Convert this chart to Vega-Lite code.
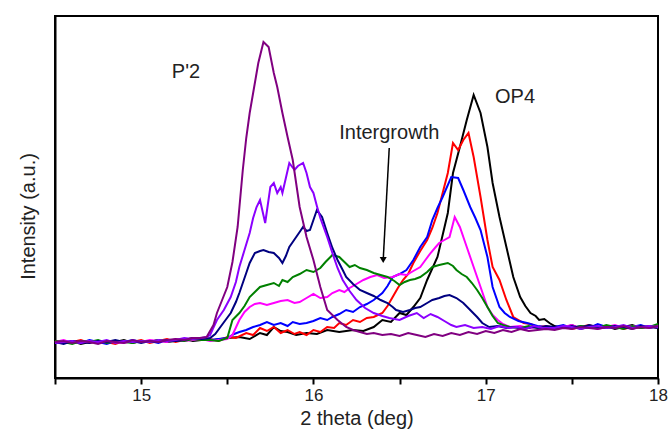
{
"$schema": "https://vega.github.io/schema/vega-lite/v6.json",
"width": 603, "height": 362,
"autosize": {"type": "none"},
"padding": {"left": 55, "top": 16, "right": 12, "bottom": 62},
"background": "white",
"config": {"view": {"stroke": "black", "strokeWidth": 2}, "font": "Liberation Sans"},
"datasets": {
"lines": [
{"s":"k","x":14.5,"y":36},{"s":"k","x":14.55,"y":35},{"s":"k","x":14.6,"y":37},{"s":"k","x":14.65,"y":34},{"s":"k","x":14.7,"y":36},{"s":"k","x":14.75,"y":37},{"s":"k","x":14.8,"y":35},{"s":"k","x":14.85,"y":36},{"s":"k","x":14.9,"y":38},{"s":"k","x":14.95,"y":35},{"s":"k","x":15.0,"y":37},{"s":"k","x":15.05,"y":36},{"s":"k","x":15.1,"y":38},{"s":"k","x":15.15,"y":36},{"s":"k","x":15.2,"y":37},{"s":"k","x":15.25,"y":39},{"s":"k","x":15.3,"y":37},{"s":"k","x":15.35,"y":38},
{"s":"k","x":15.42,"y":38},{"s":"k","x":15.5,"y":40},{"s":"k","x":15.57,"y":41},{"s":"k","x":15.63,"y":39},{"s":"k","x":15.69,"y":45},{"s":"k","x":15.73,"y":43},{"s":"k","x":15.77,"y":51},{"s":"k","x":15.81,"y":47},{"s":"k","x":15.85,"y":46},{"s":"k","x":15.9,"y":43},{"s":"k","x":15.96,"y":45},{"s":"k","x":16.02,"y":44},{"s":"k","x":16.08,"y":48},{"s":"k","x":16.15,"y":46},{"s":"k","x":16.23,"y":48},{"s":"k","x":16.29,"y":47},{"s":"k","x":16.35,"y":51},{"s":"k","x":16.4,"y":58},{"s":"k","x":16.45,"y":56},{"s":"k","x":16.5,"y":65},{"s":"k","x":16.54,"y":63},{"s":"k","x":16.58,"y":71},{"s":"k","x":16.62,"y":80},{"s":"k","x":16.66,"y":98},{"s":"k","x":16.72,"y":121},{"s":"k","x":16.78,"y":165},{"s":"k","x":16.81,"y":205},{"s":"k","x":16.85,"y":231},{"s":"k","x":16.89,"y":258},{"s":"k","x":16.93,"y":283},{"s":"k","x":16.97,"y":265},{"s":"k","x":17.01,"y":231},{"s":"k","x":17.04,"y":195},{"s":"k","x":17.08,"y":161},{"s":"k","x":17.12,"y":131},{"s":"k","x":17.16,"y":101},{"s":"k","x":17.2,"y":81},{"s":"k","x":17.23,"y":72},{"s":"k","x":17.26,"y":65},{"s":"k","x":17.29,"y":62},{"s":"k","x":17.31,"y":58},{"s":"k","x":17.34,"y":59},{"s":"k","x":17.37,"y":55},
{"s":"k","x":17.4,"y":52},{"s":"k","x":17.45,"y":50},{"s":"k","x":17.5,"y":53},{"s":"k","x":17.55,"y":49},{"s":"k","x":17.6,"y":51},{"s":"k","x":17.65,"y":50},{"s":"k","x":17.7,"y":52},{"s":"k","x":17.75,"y":49},{"s":"k","x":17.8,"y":51},{"s":"k","x":17.85,"y":53},{"s":"k","x":17.9,"y":50},{"s":"k","x":17.95,"y":52},{"s":"k","x":18.0,"y":51},

{"s":"r","x":14.5,"y":37},{"s":"r","x":14.55,"y":35},{"s":"r","x":14.6,"y":36},{"s":"r","x":14.65,"y":38},{"s":"r","x":14.7,"y":35},{"s":"r","x":14.75,"y":37},{"s":"r","x":14.8,"y":36},{"s":"r","x":14.85,"y":34},{"s":"r","x":14.9,"y":37},{"s":"r","x":14.95,"y":36},{"s":"r","x":15.0,"y":38},{"s":"r","x":15.05,"y":35},{"s":"r","x":15.1,"y":37},{"s":"r","x":15.15,"y":39},{"s":"r","x":15.2,"y":36},{"s":"r","x":15.25,"y":38},{"s":"r","x":15.3,"y":40},{"s":"r","x":15.35,"y":38},
{"s":"r","x":15.4,"y":39},{"s":"r","x":15.45,"y":37},{"s":"r","x":15.5,"y":41},{"s":"r","x":15.55,"y":40},{"s":"r","x":15.61,"y":45},{"s":"r","x":15.65,"y":43},{"s":"r","x":15.69,"y":50},{"s":"r","x":15.73,"y":47},{"s":"r","x":15.77,"y":51},{"s":"r","x":15.81,"y":45},{"s":"r","x":15.85,"y":48},{"s":"r","x":15.89,"y":44},{"s":"r","x":15.92,"y":46},{"s":"r","x":15.96,"y":43},{"s":"r","x":16.0,"y":48},{"s":"r","x":16.04,"y":46},{"s":"r","x":16.08,"y":51},{"s":"r","x":16.12,"y":50},{"s":"r","x":16.15,"y":55},{"s":"r","x":16.19,"y":53},{"s":"r","x":16.23,"y":58},{"s":"r","x":16.27,"y":56},{"s":"r","x":16.31,"y":60},{"s":"r","x":16.35,"y":61},{"s":"r","x":16.4,"y":65},{"s":"r","x":16.43,"y":72},{"s":"r","x":16.46,"y":81},{"s":"r","x":16.49,"y":90},{"s":"r","x":16.52,"y":98},{"s":"r","x":16.55,"y":104},{"s":"r","x":16.58,"y":115},{"s":"r","x":16.62,"y":127},{"s":"r","x":16.66,"y":138},{"s":"r","x":16.69,"y":150},{"s":"r","x":16.72,"y":165},{"s":"r","x":16.75,"y":185},{"s":"r","x":16.78,"y":205},{"s":"r","x":16.81,"y":235},{"s":"r","x":16.84,"y":228},{"s":"r","x":16.87,"y":238},{"s":"r","x":16.9,"y":245},{"s":"r","x":16.93,"y":221},{"s":"r","x":16.97,"y":181},{"s":"r","x":17.01,"y":138},{"s":"r","x":17.04,"y":111},{"s":"r","x":17.08,"y":98},{"s":"r","x":17.12,"y":78},{"s":"r","x":17.16,"y":61},{"s":"r","x":17.19,"y":58},{"s":"r","x":17.22,"y":55},{"s":"r","x":17.26,"y":54},{"s":"r","x":17.3,"y":51},{"s":"r","x":17.35,"y":52},
{"s":"r","x":17.4,"y":50},{"s":"r","x":17.45,"y":52},{"s":"r","x":17.5,"y":49},{"s":"r","x":17.55,"y":51},{"s":"r","x":17.6,"y":53},{"s":"r","x":17.65,"y":50},{"s":"r","x":17.7,"y":51},{"s":"r","x":17.75,"y":52},{"s":"r","x":17.8,"y":49},{"s":"r","x":17.85,"y":51},{"s":"r","x":17.9,"y":50},{"s":"r","x":17.95,"y":52},{"s":"r","x":18.0,"y":50},

{"s":"b","x":14.5,"y":35},{"s":"b","x":14.55,"y":37},{"s":"b","x":14.6,"y":36},{"s":"b","x":14.65,"y":35},{"s":"b","x":14.7,"y":38},{"s":"b","x":14.75,"y":36},{"s":"b","x":14.8,"y":34},{"s":"b","x":14.85,"y":37},{"s":"b","x":14.9,"y":36},{"s":"b","x":14.95,"y":38},{"s":"b","x":15.0,"y":36},{"s":"b","x":15.05,"y":37},{"s":"b","x":15.1,"y":35},{"s":"b","x":15.15,"y":38},{"s":"b","x":15.2,"y":37},{"s":"b","x":15.25,"y":39},{"s":"b","x":15.3,"y":38},{"s":"b","x":15.35,"y":40},
{"s":"b","x":15.4,"y":38},{"s":"b","x":15.45,"y":39},{"s":"b","x":15.5,"y":40},{"s":"b","x":15.54,"y":44},{"s":"b","x":15.57,"y":46},{"s":"b","x":15.61,"y":48},{"s":"b","x":15.65,"y":51},{"s":"b","x":15.69,"y":53},{"s":"b","x":15.73,"y":56},{"s":"b","x":15.77,"y":53},{"s":"b","x":15.81,"y":55},{"s":"b","x":15.85,"y":52},{"s":"b","x":15.88,"y":56},{"s":"b","x":15.92,"y":54},{"s":"b","x":15.96,"y":55},{"s":"b","x":16.0,"y":57},{"s":"b","x":16.04,"y":60},{"s":"b","x":16.08,"y":58},{"s":"b","x":16.11,"y":61},{"s":"b","x":16.15,"y":64},{"s":"b","x":16.19,"y":68},{"s":"b","x":16.23,"y":66},{"s":"b","x":16.27,"y":71},{"s":"b","x":16.31,"y":74},{"s":"b","x":16.35,"y":78},{"s":"b","x":16.4,"y":85},{"s":"b","x":16.43,"y":92},{"s":"b","x":16.46,"y":101},{"s":"b","x":16.5,"y":104},{"s":"b","x":16.54,"y":108},{"s":"b","x":16.58,"y":118},{"s":"b","x":16.62,"y":131},{"s":"b","x":16.66,"y":141},{"s":"b","x":16.69,"y":158},{"s":"b","x":16.72,"y":170},{"s":"b","x":16.75,"y":181},{"s":"b","x":16.8,"y":201},{"s":"b","x":16.84,"y":200},{"s":"b","x":16.87,"y":188},{"s":"b","x":16.91,"y":171},{"s":"b","x":16.94,"y":160},{"s":"b","x":16.97,"y":148},{"s":"b","x":17.01,"y":121},{"s":"b","x":17.04,"y":91},{"s":"b","x":17.08,"y":71},{"s":"b","x":17.11,"y":65},{"s":"b","x":17.14,"y":61},{"s":"b","x":17.19,"y":57},{"s":"b","x":17.24,"y":55},{"s":"b","x":17.3,"y":52},{"s":"b","x":17.35,"y":51},
{"s":"b","x":17.4,"y":51},{"s":"b","x":17.45,"y":53},{"s":"b","x":17.5,"y":50},{"s":"b","x":17.55,"y":52},{"s":"b","x":17.6,"y":50},{"s":"b","x":17.65,"y":54},{"s":"b","x":17.7,"y":51},{"s":"b","x":17.75,"y":50},{"s":"b","x":17.8,"y":52},{"s":"b","x":17.85,"y":51},{"s":"b","x":17.9,"y":53},{"s":"b","x":17.95,"y":50},{"s":"b","x":18.0,"y":52},

{"s":"m","x":14.5,"y":36},{"s":"m","x":14.55,"y":38},{"s":"m","x":14.6,"y":35},{"s":"m","x":14.65,"y":36},{"s":"m","x":14.7,"y":37},{"s":"m","x":14.75,"y":35},{"s":"m","x":14.8,"y":37},{"s":"m","x":14.85,"y":36},{"s":"m","x":14.9,"y":35},{"s":"m","x":14.95,"y":37},{"s":"m","x":15.0,"y":36},{"s":"m","x":15.05,"y":38},{"s":"m","x":15.1,"y":37},{"s":"m","x":15.15,"y":36},{"s":"m","x":15.2,"y":39},{"s":"m","x":15.25,"y":37},{"s":"m","x":15.3,"y":38},{"s":"m","x":15.35,"y":39},
{"s":"m","x":15.4,"y":37},{"s":"m","x":15.45,"y":38},{"s":"m","x":15.5,"y":39},{"s":"m","x":15.53,"y":43},{"s":"m","x":15.57,"y":58},{"s":"m","x":15.6,"y":66},{"s":"m","x":15.63,"y":71},{"s":"m","x":15.66,"y":74},{"s":"m","x":15.69,"y":75},{"s":"m","x":15.73,"y":73},{"s":"m","x":15.77,"y":75},{"s":"m","x":15.81,"y":77},{"s":"m","x":15.85,"y":78},{"s":"m","x":15.89,"y":75},{"s":"m","x":15.92,"y":76},{"s":"m","x":15.96,"y":80},{"s":"m","x":16.0,"y":84},{"s":"m","x":16.04,"y":80},{"s":"m","x":16.08,"y":81},{"s":"m","x":16.11,"y":85},{"s":"m","x":16.15,"y":88},{"s":"m","x":16.18,"y":86},{"s":"m","x":16.21,"y":90},{"s":"m","x":16.25,"y":94},{"s":"m","x":16.29,"y":98},{"s":"m","x":16.33,"y":101},{"s":"m","x":16.37,"y":103},{"s":"m","x":16.41,"y":100},{"s":"m","x":16.46,"y":101},{"s":"m","x":16.5,"y":104},{"s":"m","x":16.54,"y":103},{"s":"m","x":16.58,"y":107},{"s":"m","x":16.62,"y":111},{"s":"m","x":16.65,"y":118},{"s":"m","x":16.68,"y":125},{"s":"m","x":16.71,"y":131},{"s":"m","x":16.73,"y":135},{"s":"m","x":16.76,"y":138},{"s":"m","x":16.79,"y":141},{"s":"m","x":16.82,"y":161},{"s":"m","x":16.85,"y":151},{"s":"m","x":16.89,"y":131},{"s":"m","x":16.93,"y":111},{"s":"m","x":16.97,"y":91},{"s":"m","x":17.01,"y":71},{"s":"m","x":17.04,"y":63},{"s":"m","x":17.07,"y":58},{"s":"m","x":17.1,"y":54},{"s":"m","x":17.14,"y":51},{"s":"m","x":17.2,"y":52},{"s":"m","x":17.25,"y":50},{"s":"m","x":17.3,"y":51},{"s":"m","x":17.35,"y":50},
{"s":"m","x":17.4,"y":50},{"s":"m","x":17.45,"y":51},{"s":"m","x":17.5,"y":53},{"s":"m","x":17.55,"y":50},{"s":"m","x":17.6,"y":52},{"s":"m","x":17.65,"y":49},{"s":"m","x":17.7,"y":51},{"s":"m","x":17.75,"y":53},{"s":"m","x":17.8,"y":50},{"s":"m","x":17.85,"y":52},{"s":"m","x":17.9,"y":51},{"s":"m","x":17.95,"y":50},{"s":"m","x":18.0,"y":53},

{"s":"g","x":14.5,"y":37},{"s":"g","x":14.55,"y":36},{"s":"g","x":14.6,"y":34},{"s":"g","x":14.65,"y":37},{"s":"g","x":14.7,"y":36},{"s":"g","x":14.75,"y":38},{"s":"g","x":14.8,"y":35},{"s":"g","x":14.85,"y":37},{"s":"g","x":14.9,"y":36},{"s":"g","x":14.95,"y":35},{"s":"g","x":15.0,"y":37},{"s":"g","x":15.05,"y":36},{"s":"g","x":15.1,"y":38},{"s":"g","x":15.15,"y":37},{"s":"g","x":15.2,"y":38},{"s":"g","x":15.25,"y":37},{"s":"g","x":15.3,"y":39},{"s":"g","x":15.35,"y":38},
{"s":"g","x":15.4,"y":38},{"s":"g","x":15.45,"y":37},{"s":"g","x":15.5,"y":40},{"s":"g","x":15.53,"y":58},{"s":"g","x":15.57,"y":65},{"s":"g","x":15.6,"y":72},{"s":"g","x":15.63,"y":81},{"s":"g","x":15.66,"y":86},{"s":"g","x":15.69,"y":91},{"s":"g","x":15.73,"y":93},{"s":"g","x":15.77,"y":95},{"s":"g","x":15.8,"y":92},{"s":"g","x":15.82,"y":98},{"s":"g","x":15.85,"y":96},{"s":"g","x":15.88,"y":101},{"s":"g","x":15.92,"y":104},{"s":"g","x":15.96,"y":108},{"s":"g","x":16.0,"y":106},{"s":"g","x":16.04,"y":110},{"s":"g","x":16.07,"y":116},{"s":"g","x":16.11,"y":123},{"s":"g","x":16.15,"y":121},{"s":"g","x":16.18,"y":116},{"s":"g","x":16.21,"y":111},{"s":"g","x":16.24,"y":113},{"s":"g","x":16.27,"y":110},{"s":"g","x":16.31,"y":108},{"s":"g","x":16.35,"y":105},{"s":"g","x":16.39,"y":103},{"s":"g","x":16.43,"y":101},{"s":"g","x":16.47,"y":97},{"s":"g","x":16.5,"y":93},{"s":"g","x":16.53,"y":96},{"s":"g","x":16.56,"y":98},{"s":"g","x":16.59,"y":99},{"s":"g","x":16.62,"y":101},{"s":"g","x":16.66,"y":106},{"s":"g","x":16.69,"y":111},{"s":"g","x":16.73,"y":113},{"s":"g","x":16.78,"y":115},{"s":"g","x":16.81,"y":112},{"s":"g","x":16.83,"y":108},{"s":"g","x":16.86,"y":104},{"s":"g","x":16.89,"y":101},{"s":"g","x":16.92,"y":95},{"s":"g","x":16.95,"y":88},{"s":"g","x":16.98,"y":80},{"s":"g","x":17.01,"y":71},{"s":"g","x":17.04,"y":62},{"s":"g","x":17.07,"y":55},{"s":"g","x":17.1,"y":53},{"s":"g","x":17.14,"y":51},{"s":"g","x":17.2,"y":50},{"s":"g","x":17.25,"y":52},{"s":"g","x":17.3,"y":50},{"s":"g","x":17.35,"y":51},
{"s":"g","x":17.4,"y":49},{"s":"g","x":17.45,"y":51},{"s":"g","x":17.5,"y":50},{"s":"g","x":17.55,"y":52},{"s":"g","x":17.6,"y":51},{"s":"g","x":17.65,"y":50},{"s":"g","x":17.7,"y":53},{"s":"g","x":17.75,"y":51},{"s":"g","x":17.8,"y":49},{"s":"g","x":17.85,"y":52},{"s":"g","x":17.9,"y":50},{"s":"g","x":17.95,"y":51},{"s":"g","x":18.0,"y":54},

{"s":"n","x":14.5,"y":36},{"s":"n","x":14.55,"y":34},{"s":"n","x":14.6,"y":37},{"s":"n","x":14.65,"y":36},{"s":"n","x":14.7,"y":35},{"s":"n","x":14.75,"y":37},{"s":"n","x":14.8,"y":36},{"s":"n","x":14.85,"y":38},{"s":"n","x":14.9,"y":36},{"s":"n","x":14.95,"y":37},{"s":"n","x":15.0,"y":35},{"s":"n","x":15.05,"y":37},{"s":"n","x":15.1,"y":36},{"s":"n","x":15.15,"y":38},{"s":"n","x":15.2,"y":37},{"s":"n","x":15.25,"y":38},{"s":"n","x":15.3,"y":40},
{"s":"n","x":15.35,"y":39},{"s":"n","x":15.4,"y":40},{"s":"n","x":15.43,"y":44},{"s":"n","x":15.46,"y":51},{"s":"n","x":15.49,"y":58},{"s":"n","x":15.52,"y":65},{"s":"n","x":15.55,"y":76},{"s":"n","x":15.57,"y":85},{"s":"n","x":15.61,"y":105},{"s":"n","x":15.63,"y":115},{"s":"n","x":15.66,"y":125},{"s":"n","x":15.69,"y":127},{"s":"n","x":15.71,"y":128},{"s":"n","x":15.74,"y":126},{"s":"n","x":15.77,"y":125},{"s":"n","x":15.8,"y":120},{"s":"n","x":15.82,"y":115},{"s":"n","x":15.84,"y":122},{"s":"n","x":15.86,"y":131},{"s":"n","x":15.88,"y":136},{"s":"n","x":15.9,"y":141},{"s":"n","x":15.92,"y":146},{"s":"n","x":15.94,"y":151},{"s":"n","x":15.96,"y":147},{"s":"n","x":15.98,"y":148},{"s":"n","x":16.0,"y":158},{"s":"n","x":16.02,"y":168},{"s":"n","x":16.05,"y":161},{"s":"n","x":16.08,"y":145},{"s":"n","x":16.11,"y":130},{"s":"n","x":16.14,"y":118},{"s":"n","x":16.17,"y":108},{"s":"n","x":16.19,"y":101},{"s":"n","x":16.23,"y":94},{"s":"n","x":16.27,"y":88},{"s":"n","x":16.31,"y":85},{"s":"n","x":16.35,"y":82},{"s":"n","x":16.39,"y":78},{"s":"n","x":16.43,"y":75},{"s":"n","x":16.46,"y":71},{"s":"n","x":16.48,"y":68},{"s":"n","x":16.52,"y":66},{"s":"n","x":16.56,"y":68},{"s":"n","x":16.59,"y":70},{"s":"n","x":16.62,"y":71},{"s":"n","x":16.66,"y":75},{"s":"n","x":16.69,"y":78},{"s":"n","x":16.73,"y":80},{"s":"n","x":16.76,"y":82},{"s":"n","x":16.79,"y":83},{"s":"n","x":16.83,"y":80},{"s":"n","x":16.87,"y":75},{"s":"n","x":16.91,"y":68},{"s":"n","x":16.95,"y":61},{"s":"n","x":16.98,"y":55},{"s":"n","x":17.02,"y":51},{"s":"n","x":17.07,"y":52},{"s":"n","x":17.12,"y":50},{"s":"n","x":17.17,"y":51},{"s":"n","x":17.22,"y":49},{"s":"n","x":17.27,"y":51},{"s":"n","x":17.32,"y":50},{"s":"n","x":17.35,"y":52},
{"s":"n","x":17.4,"y":51},{"s":"n","x":17.45,"y":50},{"s":"n","x":17.5,"y":52},{"s":"n","x":17.55,"y":50},{"s":"n","x":17.6,"y":53},{"s":"n","x":17.65,"y":51},{"s":"n","x":17.7,"y":50},{"s":"n","x":17.75,"y":52},{"s":"n","x":17.8,"y":51},{"s":"n","x":17.85,"y":49},{"s":"n","x":17.9,"y":52},{"s":"n","x":17.95,"y":51},{"s":"n","x":18.0,"y":50},

{"s":"v","x":14.5,"y":35},{"s":"v","x":14.55,"y":36},{"s":"v","x":14.6,"y":37},{"s":"v","x":14.65,"y":35},{"s":"v","x":14.7,"y":37},{"s":"v","x":14.75,"y":36},{"s":"v","x":14.8,"y":38},{"s":"v","x":14.85,"y":35},{"s":"v","x":14.9,"y":37},{"s":"v","x":14.95,"y":36},{"s":"v","x":15.0,"y":37},{"s":"v","x":15.05,"y":36},{"s":"v","x":15.1,"y":38},{"s":"v","x":15.15,"y":37},{"s":"v","x":15.2,"y":38},{"s":"v","x":15.25,"y":40},{"s":"v","x":15.3,"y":39},
{"s":"v","x":15.35,"y":40},{"s":"v","x":15.38,"y":41},{"s":"v","x":15.4,"y":43},{"s":"v","x":15.44,"y":58},{"s":"v","x":15.48,"y":68},{"s":"v","x":15.52,"y":81},{"s":"v","x":15.55,"y":96},{"s":"v","x":15.57,"y":111},{"s":"v","x":15.6,"y":128},{"s":"v","x":15.63,"y":145},{"s":"v","x":15.65,"y":160},{"s":"v","x":15.67,"y":171},{"s":"v","x":15.69,"y":178},{"s":"v","x":15.72,"y":155},{"s":"v","x":15.75,"y":191},{"s":"v","x":15.77,"y":195},{"s":"v","x":15.79,"y":185},{"s":"v","x":15.81,"y":191},{"s":"v","x":15.82,"y":185},{"s":"v","x":15.84,"y":200},{"s":"v","x":15.86,"y":215},{"s":"v","x":15.89,"y":208},{"s":"v","x":15.91,"y":212},{"s":"v","x":15.94,"y":215},{"s":"v","x":15.96,"y":205},{"s":"v","x":15.98,"y":191},{"s":"v","x":16.0,"y":185},{"s":"v","x":16.02,"y":172},{"s":"v","x":16.04,"y":160},{"s":"v","x":16.08,"y":141},{"s":"v","x":16.11,"y":125},{"s":"v","x":16.14,"y":110},{"s":"v","x":16.17,"y":98},{"s":"v","x":16.21,"y":87},{"s":"v","x":16.25,"y":78},{"s":"v","x":16.3,"y":70},{"s":"v","x":16.35,"y":65},{"s":"v","x":16.4,"y":62},{"s":"v","x":16.44,"y":60},{"s":"v","x":16.5,"y":58},{"s":"v","x":16.55,"y":62},{"s":"v","x":16.6,"y":65},{"s":"v","x":16.64,"y":60},{"s":"v","x":16.68,"y":64},{"s":"v","x":16.72,"y":61},{"s":"v","x":16.76,"y":57},{"s":"v","x":16.8,"y":53},{"s":"v","x":16.83,"y":51},{"s":"v","x":16.88,"y":53},{"s":"v","x":16.93,"y":50},{"s":"v","x":16.98,"y":51},{"s":"v","x":17.03,"y":49},{"s":"v","x":17.08,"y":52},{"s":"v","x":17.13,"y":50},{"s":"v","x":17.18,"y":51},{"s":"v","x":17.23,"y":49},{"s":"v","x":17.28,"y":52},{"s":"v","x":17.33,"y":50},
{"s":"v","x":17.4,"y":50},{"s":"v","x":17.45,"y":52},{"s":"v","x":17.5,"y":51},{"s":"v","x":17.55,"y":49},{"s":"v","x":17.6,"y":51},{"s":"v","x":17.65,"y":52},{"s":"v","x":17.7,"y":50},{"s":"v","x":17.75,"y":51},{"s":"v","x":17.8,"y":53},{"s":"v","x":17.85,"y":50},{"s":"v","x":17.9,"y":51},{"s":"v","x":17.95,"y":52},{"s":"v","x":18.0,"y":51},

{"s":"p","x":14.5,"y":36},{"s":"p","x":14.55,"y":37},{"s":"p","x":14.6,"y":35},{"s":"p","x":14.65,"y":37},{"s":"p","x":14.7,"y":36},{"s":"p","x":14.75,"y":34},{"s":"p","x":14.8,"y":37},{"s":"p","x":14.85,"y":36},{"s":"p","x":14.9,"y":35},{"s":"p","x":14.95,"y":38},{"s":"p","x":15.0,"y":36},{"s":"p","x":15.05,"y":37},{"s":"p","x":15.1,"y":36},{"s":"p","x":15.15,"y":38},{"s":"p","x":15.2,"y":39},{"s":"p","x":15.25,"y":38},{"s":"p","x":15.3,"y":40},
{"s":"p","x":15.34,"y":40},{"s":"p","x":15.38,"y":41},{"s":"p","x":15.42,"y":53},{"s":"p","x":15.44,"y":65},{"s":"p","x":15.47,"y":78},{"s":"p","x":15.5,"y":91},{"s":"p","x":15.53,"y":116},{"s":"p","x":15.56,"y":151},{"s":"p","x":15.59,"y":208},{"s":"p","x":15.61,"y":240},{"s":"p","x":15.63,"y":265},{"s":"p","x":15.65,"y":285},{"s":"p","x":15.68,"y":315},{"s":"p","x":15.71,"y":336},{"s":"p","x":15.74,"y":331},{"s":"p","x":15.77,"y":305},{"s":"p","x":15.79,"y":291},{"s":"p","x":15.82,"y":265},{"s":"p","x":15.85,"y":241},{"s":"p","x":15.88,"y":218},{"s":"p","x":15.92,"y":171},{"s":"p","x":15.96,"y":141},{"s":"p","x":16.0,"y":118},{"s":"p","x":16.04,"y":91},{"s":"p","x":16.08,"y":68},{"s":"p","x":16.14,"y":58},{"s":"p","x":16.19,"y":51},{"s":"p","x":16.23,"y":48},{"s":"p","x":16.27,"y":46},{"s":"p","x":16.31,"y":44},{"s":"p","x":16.35,"y":45},{"s":"p","x":16.4,"y":43},{"s":"p","x":16.45,"y":44},{"s":"p","x":16.5,"y":42},{"s":"p","x":16.55,"y":45},{"s":"p","x":16.6,"y":43},{"s":"p","x":16.65,"y":41},{"s":"p","x":16.7,"y":44},{"s":"p","x":16.75,"y":42},{"s":"p","x":16.8,"y":45},{"s":"p","x":16.85,"y":43},{"s":"p","x":16.9,"y":46},{"s":"p","x":16.95,"y":44},{"s":"p","x":17.0,"y":47},{"s":"p","x":17.05,"y":45},{"s":"p","x":17.1,"y":48},{"s":"p","x":17.15,"y":46},{"s":"p","x":17.2,"y":49},{"s":"p","x":17.25,"y":47},{"s":"p","x":17.3,"y":48},{"s":"p","x":17.35,"y":49},
{"s":"p","x":17.4,"y":48},{"s":"p","x":17.45,"y":50},{"s":"p","x":17.5,"y":49},{"s":"p","x":17.55,"y":51},{"s":"p","x":17.6,"y":50},{"s":"p","x":17.65,"y":49},{"s":"p","x":17.7,"y":51},{"s":"p","x":17.75,"y":50},{"s":"p","x":17.8,"y":52},{"s":"p","x":17.85,"y":49},{"s":"p","x":17.9,"y":51},{"s":"p","x":17.95,"y":50},{"s":"p","x":18.0,"y":52}
],
"labels": [
{"text":"P'2","x":15.26,"y":306},
{"text":"OP4","x":17.17,"y":281},
{"text":"Intergrowth","x":16.44,"y":245}
],
"arrow": [
{"x":16.44,"y":230,"x2":16.405,"y2":118}
]
},
"layer": [
{
"data": {"name": "lines"},
"mark": {"type": "line", "strokeWidth": 2, "interpolate": "linear"},
"encoding": {
"x": {"field": "x", "type": "quantitative", "scale": {"domain": [14.5, 18], "nice": false, "zero": false},
"axis": {"title": "2 theta (deg)", "values": [14.5,15,15.5,16,16.5,17,17.5,18], "labelExpr": "datum.value % 1 === 0 ? format(datum.value, 'd') : ''", "labelFlush": false, "labelOverlap": false, "tickSize": 6, "tickWidth": 2, "tickColor": "black", "domainColor": "black", "domainWidth": 2, "grid": false, "labelFontSize": 17, "labelColor": "#222", "labelPadding": 3, "titleFontSize": 20, "titleFontWeight": "normal", "titleColor": "#222", "titlePadding": 5}},
"y": {"field": "y", "type": "quantitative", "scale": {"domain": [0, 362], "nice": false, "zero": false},
"axis": {"title": "Intensity (a.u.)", "labels": false, "ticks": false, "grid": false, "domainColor": "black", "domainWidth": 2, "titleFontSize": 20, "titleFontWeight": "normal", "titleColor": "#222", "titlePadding": 17, "titleY": 200}},
"color": {"field": "s", "type": "nominal", "legend": null, "sort": null,
"scale": {"domain": ["k","r","b","m","g","n","v","p"], "range": ["#000000","#FF0000","#0000FF","#FF00FF","#008000","#000080","#8B00FF","#800080"]}}
}
},
{
"data": {"name": "arrow"},
"mark": {"type": "rule", "color": "black", "strokeWidth": 1.5},
"encoding": {
"x": {"field": "x", "type": "quantitative"},
"y": {"field": "y", "type": "quantitative"},
"x2": {"field": "x2"},
"y2": {"field": "y2"}
}
},
{
"data": {"name": "arrow"},
"mark": {"type": "point", "shape": "triangle-down", "filled": true, "color": "black", "size": 50, "opacity": 1},
"encoding": {
"x": {"field": "x2", "type": "quantitative"},
"y": {"field": "y2", "type": "quantitative"}
}
},
{
"data": {"name": "labels"},
"mark": {"type": "text", "fontSize": 20, "color": "#222", "align": "center", "baseline": "middle", "font": "Liberation Sans"},
"encoding": {
"x": {"field": "x", "type": "quantitative"},
"y": {"field": "y", "type": "quantitative"},
"text": {"field": "text"}
}
}
]
}
